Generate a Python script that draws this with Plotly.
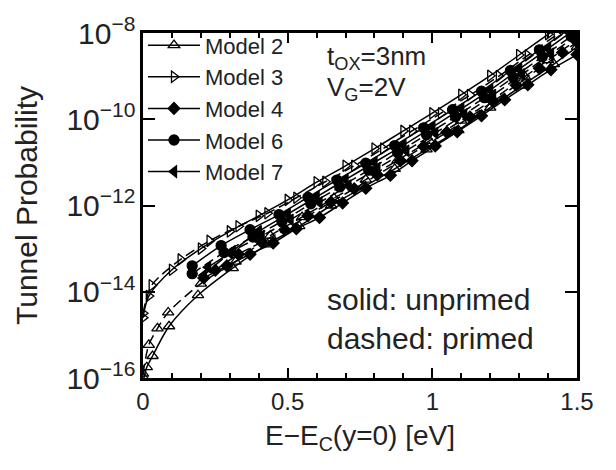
import plotly.graph_objects as go

# ---- data (log10 of tunnel probability) ----
m3_sol_E = [0.0, 0.02, 0.1, 0.2, 0.3, 0.4, 0.5, 0.6, 0.7, 0.8, 0.9, 1.0, 1.1, 1.2, 1.3, 1.4, 1.5]
m3_sol_L = [-14.6, -14.1, -13.49, -13.0, -12.6, -12.24, -11.87, -11.46, -11.08, -10.68, -10.27, -9.86, -9.43, -8.99, -8.51, -8.03, -7.56]
m3_das_E = [0.0, 0.03, 0.13, 0.23, 0.33, 0.43, 0.53, 0.63, 0.73, 0.83, 0.93, 1.03, 1.13, 1.23, 1.33, 1.43, 1.5]
m3_das_L = [-14.5, -13.85, -13.25, -12.82, -12.48, -12.18, -11.82, -11.45, -11.08, -10.68, -10.27, -9.86, -9.44, -9.0, -8.52, -8.04, -7.72]

m6_sol_E = [0.17, 0.27, 0.37, 0.47, 0.57, 0.67, 0.77, 0.87, 0.97, 1.07, 1.17, 1.27, 1.37, 1.47]
m6_sol_L = [-13.4, -12.93, -12.56, -12.21, -11.81, -11.41, -11.02, -10.61, -10.2, -9.78, -9.35, -8.87, -8.39, -7.92]
m6_das_E = [0.17, 0.28, 0.38, 0.48, 0.58, 0.68, 0.78, 0.88, 0.98, 1.08, 1.18, 1.28, 1.38, 1.48]
m6_das_L = [-13.58, -13.09, -12.73, -12.37, -11.96, -11.57, -11.18, -10.77, -10.36, -9.94, -9.5, -9.03, -8.55, -8.08]

m7_sol_E = [0.225, 0.3, 0.4, 0.5, 0.6, 0.7, 0.8, 0.9, 1.0, 1.1, 1.2, 1.3, 1.4, 1.5]
m7_sol_L = [-13.43, -13.1, -12.6, -12.2, -11.8, -11.4, -11.0, -10.6, -10.18, -9.76, -9.32, -8.84, -8.36, -7.88]
m7_das_E = [0.21, 0.31, 0.41, 0.51, 0.61, 0.71, 0.81, 0.91, 1.01, 1.11, 1.21, 1.31, 1.41, 1.5]
m7_das_L = [-13.62, -13.06, -12.71, -12.33, -11.93, -11.54, -11.14, -10.73, -10.32, -9.89, -9.44, -8.96, -8.48, -8.06]

m2_sol_E = [0.003, 0.013, 0.033, 0.09, 0.19, 0.31, 0.43, 0.54, 0.65, 0.76, 0.87, 0.98, 1.09, 1.2, 1.31, 1.42, 1.5]
m2_sol_L = [-16.0, -15.75, -15.49, -14.8, -14.08, -13.45, -12.9, -12.48, -12.0, -11.58, -11.15, -10.7, -10.25, -9.73, -9.22, -8.72, -8.32]
m2_das_E = [0.0, 0.02, 0.05, 0.087, 0.2, 0.32, 0.44, 0.55, 0.66, 0.77, 0.88, 0.99, 1.1, 1.21, 1.32, 1.4, 1.5]
m2_das_L = [-15.9, -15.23, -14.85, -14.48, -13.81, -13.3, -12.7, -12.27, -11.83, -11.4, -10.95, -10.5, -10.03, -9.54, -9.01, -8.63, -8.16]

m4_sol_E = [0.21, 0.29, 0.37, 0.45, 0.53, 0.61, 0.69, 0.77, 0.855, 0.93, 1.01, 1.086, 1.17, 1.25, 1.33, 1.41, 1.5]
m4_sol_L = [-13.68, -13.4, -13.13, -12.87, -12.54, -12.28, -11.94, -11.6, -11.3, -10.96, -10.62, -10.29, -9.92, -9.55, -9.2, -8.85, -8.5]
m4_das_E = [0.25, 0.33, 0.41, 0.49, 0.57, 0.65, 0.73, 0.81, 0.89, 0.97, 1.05, 1.13, 1.21, 1.29, 1.37, 1.45, 1.5]
m4_das_L = [-13.5, -13.13, -12.85, -12.56, -12.24, -11.92, -11.61, -11.29, -10.96, -10.63, -10.3, -9.95, -9.59, -9.21, -8.82, -8.45, -8.21]

models = [
    ("Model 2", "triangle-up-open", 10, m2_sol_E, m2_sol_L, m2_das_E, m2_das_L),
    ("Model 3", "triangle-right-open", 10, m3_sol_E, m3_sol_L, m3_das_E, m3_das_L),
    ("Model 4", "diamond", 9, m4_sol_E, m4_sol_L, m4_das_E, m4_das_L),
    ("Model 6", "circle", 10, m6_sol_E, m6_sol_L, m6_das_E, m6_das_L),
    ("Model 7", "triangle-left", 10, m7_sol_E, m7_sol_L, m7_das_E, m7_das_L),
]

FONT = "Liberation Sans, Arial, Helvetica, sans-serif"
TXT = "#222"
fig = go.Figure()
for name, sym, ms, sE, sL, dE, dL in models:
    mk = dict(symbol=sym, size=ms, color="black", line=dict(color="black", width=1.3))
    fig.add_trace(go.Scatter(x=sE, y=[10 ** v for v in sL], mode="lines+markers", name=name,
                             line=dict(color="black", width=1.5, shape="spline", smoothing=0.8),
                             marker=mk, showlegend=True))
    fig.add_trace(go.Scatter(x=dE, y=[10 ** v for v in dL], mode="lines+markers", name=name + " primed",
                             line=dict(color="black", width=1.5, dash="10px,5px", shape="spline", smoothing=0.8),
                             marker=mk, showlegend=False))

axis_common = dict(showline=True, linecolor="black", linewidth=2.5, mirror="ticks",
                   ticks="inside", tickcolor="black", tickwidth=2, showgrid=False, zeroline=False,
                   ticklabeloverflow="allow",
                   tickfont=dict(family=FONT, size=24, color=TXT))
fig.update_xaxes(range=[0, 1.5], tickvals=[0, 0.5, 1, 1.5], ticktext=["0", "0.5", "1", "1.5"], ticklen=10,
                 minor=dict(dtick=0.1, ticks="inside", ticklen=5, tickwidth=1.5, tickcolor="black"),
                 title=dict(text="E\u2212E<sub>C</sub>(y=0) [eV]", font=dict(family=FONT, size=28, color=TXT), standoff=12),
                 **axis_common)
fig.update_yaxes(type="log", range=[-16, -8], dtick=2, exponentformat="power", ticklen=12,
                 title=dict(text="Tunnel Probability", font=dict(family=FONT, size=30, color=TXT), standoff=20),
                 **axis_common)

ann_font = dict(family=FONT, size=26, color=TXT)
fig.add_annotation(xref="paper", yref="paper", x=0.42, y=0.93, xanchor="left", yanchor="middle",
                   text="t<sub>OX</sub>=3nm", showarrow=False, font=ann_font)
fig.add_annotation(xref="paper", yref="paper", x=0.42, y=0.84, xanchor="left", yanchor="middle",
                   text="V<sub>G</sub>=2V", showarrow=False, font=ann_font)
fig.add_annotation(xref="paper", yref="paper", x=0.42, y=0.228, xanchor="left", yanchor="middle",
                   text="solid: unprimed", showarrow=False, font=dict(family=FONT, size=30, color=TXT))
fig.add_annotation(xref="paper", yref="paper", x=0.42, y=0.115, xanchor="left", yanchor="middle",
                   text="dashed: primed", showarrow=False, font=dict(family=FONT, size=30, color=TXT))

fig.update_layout(
    width=616, height=470, margin=dict(l=143, r=39, t=21, b=92),
    plot_bgcolor="white", paper_bgcolor="white",
    font=dict(family=FONT, color=TXT),
    legend=dict(x=0.0, y=1.025, xanchor="left", yanchor="top", bgcolor="rgba(0,0,0,0)",
                font=dict(family=FONT, size=22, color=TXT), tracegroupgap=0, itemwidth=52),
)
fig.write_html("out.html")
